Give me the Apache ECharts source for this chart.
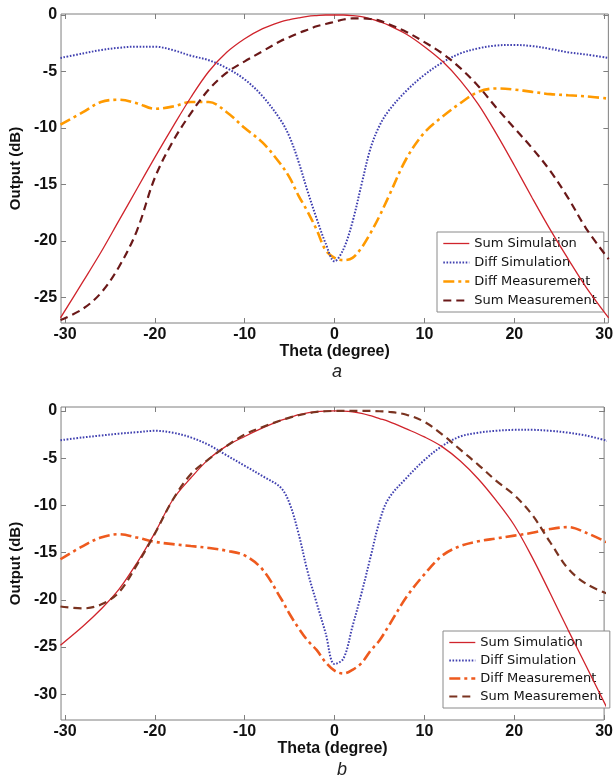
<!DOCTYPE html>
<html>
<head>
<meta charset="utf-8">
<script src="https://cdn.jsdelivr.net/npm/echarts@6/dist/echarts.min.js"></script>
<style>
html,body{margin:0;padding:0;background:#fff;}
#chart{width:616px;height:778px;}
</style>
</head>
<body>
<div id="chart"></div>
<script>
// ---------- data ----------
var theta = [-30.5,-28,-26,-24,-22,-20,-18,-16,-14,-12,-10,-8,-6,-5,-4,-3,-2,-1,0,1,2,3,4,5,6,8,10,12,14,16,18,20,22,24,26,28,30.5];
var xTicks = [-30,-20,-10,0,10,20,30];
var yTicksA = [0,-5,-10,-15,-20,-25];
var yTicksB = [0,-5,-10,-15,-20,-25,-30];
var seriesNames = ['Sum Simulation','Diff Simulation','Diff Measurement','Sum Measurement'];

// chart a
var sumSimA  = [-26.8,-23.6,-21.0,-18.2,-15.4,-12.6,-9.9,-7.3,-5.0,-3.3,-2.1,-1.2,-0.6,-0.4,-0.25,-0.12,-0.05,0,0,0,-0.05,-0.15,-0.35,-0.6,-0.9,-1.7,-2.8,-4.1,-5.8,-7.9,-10.5,-13.3,-16.2,-19.0,-21.6,-24.1,-26.8];
var diffSimA = [-3.8,-3.4,-3.1,-2.9,-2.8,-2.8,-3.1,-3.6,-4.0,-4.7,-5.7,-7.2,-9.3,-10.8,-13.0,-15.6,-18.0,-20.2,-21.8,-20.7,-18.3,-15.0,-11.8,-9.8,-8.5,-6.7,-5.3,-4.2,-3.4,-2.95,-2.7,-2.65,-2.75,-3.0,-3.3,-3.5,-3.8];
var diffMeasA= [-9.7,-8.6,-7.7,-7.5,-7.8,-8.3,-8.1,-7.7,-7.7,-8.6,-10.0,-11.3,-13.2,-14.4,-16.0,-17.4,-19.0,-20.8,-21.5,-21.7,-21.5,-20.6,-19.3,-17.8,-16.1,-12.7,-10.4,-9.0,-7.8,-6.8,-6.5,-6.6,-6.8,-7.0,-7.1,-7.2,-7.4];
var sumMeasA = [-27.0,-26.0,-24.6,-22.3,-19.1,-14.4,-11.2,-8.7,-6.6,-5.1,-4.1,-3.2,-2.3,-1.95,-1.6,-1.3,-1.0,-0.8,-0.6,-0.4,-0.3,-0.3,-0.35,-0.5,-0.8,-1.5,-2.4,-3.4,-4.7,-6.3,-8.2,-10.0,-11.8,-13.8,-16.2,-18.9,-21.6];

// chart b
var sumSimB  = [-24.8,-22.8,-21.0,-18.9,-16.1,-12.9,-9.4,-7.1,-5.1,-3.7,-2.7,-1.8,-1.0,-0.7,-0.4,-0.2,-0.08,-0.02,0,-0.02,-0.1,-0.25,-0.5,-0.8,-1.1,-1.9,-2.75,-3.8,-5.3,-7.2,-9.5,-12.1,-15.5,-19.3,-23.2,-27.0,-31.8];
var diffSimB = [-3.1,-2.8,-2.6,-2.4,-2.25,-2.1,-2.3,-2.8,-3.6,-4.7,-5.8,-6.9,-8.1,-9.8,-13.0,-17.0,-20.3,-23.5,-26.8,-26.2,-22.8,-19.3,-15.5,-11.7,-9.3,-7.1,-5.2,-3.7,-2.7,-2.3,-2.1,-2.0,-2.0,-2.1,-2.3,-2.6,-3.2];
var diffMeasB= [-15.7,-14.3,-13.4,-13.05,-13.4,-13.85,-14.1,-14.3,-14.5,-14.8,-15.3,-16.8,-19.8,-21.5,-23.0,-24.3,-25.3,-26.6,-27.5,-27.8,-27.4,-26.7,-25.4,-24.3,-22.8,-19.7,-17.3,-15.3,-14.3,-13.8,-13.5,-13.2,-12.9,-12.5,-12.3,-12.9,-14.0];
var sumMeasB = [-20.7,-20.9,-20.5,-19.2,-16.3,-13.0,-9.4,-6.7,-5.1,-3.7,-2.5,-1.7,-1.0,-0.7,-0.45,-0.25,-0.1,-0.03,0,0,0,0,0,-0.03,-0.08,-0.4,-1.15,-2.5,-4.1,-5.7,-7.4,-8.9,-11.0,-13.9,-16.7,-18.3,-19.4];

// ---------- styles ----------
var C_SUMSIM = '#d0242c';
var C_DIFFSIM = '#4040b0';
var C_DIFFMEAS_A = '#ff9a00';
var C_DIFFMEAS_B = '#ee5a1e';
var C_SUMMEAS_A = '#6a1818';
var C_SUMMEAS_B = '#7a3320';

var lsSumSim = function(){ return {color:C_SUMSIM, width:1.3, type:'solid'}; };
var lsDiffSim = function(){ return {color:C_DIFFSIM, width:2, type:[1.6,1.6]}; };
var lsDiffMeas = function(c){ return {color:c, width:2.6, type:[11,4,3,4]}; };
var lsSumMeas = function(c){ return {color:c, width:2.2, type:[8,5]}; };

function pairs(xs, ys){ return xs.map(function(x,i){ return [x, ys[i]]; }); }

var GRAY = '#7f7f7f';
var tickFont = {fontFamily:'Liberation Sans, Arial, sans-serif', fontWeight:'bold', fontSize:16, color:'#111'};

function xAxisDef(grid, min, max, pos, labels){
  return {
    type:'value', gridIndex:grid, min:min, max:max, position:pos,
    axisLine:{show:false, onZero:false},
    axisTick:{show:true, inside:true, length:5, lineStyle:{color:GRAY}, customValues:xTicks},
    axisLabel:Object.assign({show:labels, margin:4, customValues:xTicks}, tickFont),
    splitLine:{show:false},
    name: labels ? 'Theta (degree)' : '',
    nameLocation:'middle', nameGap:17,
    nameTextStyle:{fontFamily:'Liberation Sans, Arial, sans-serif', fontWeight:'bold', fontSize:16, color:'#111'}
  };
}
function yAxisDef(grid, min, max, pos, labels, ticks, gap){
  return {
    type:'value', gridIndex:grid, min:min, max:max, position:pos,
    axisLine:{show:false, onZero:false},
    axisTick:{show:true, inside:true, length:5, lineStyle:{color:GRAY}, customValues:ticks},
    axisLabel:Object.assign({show:labels, margin:4, customValues:ticks}, tickFont),
    splitLine:{show:false},
    name: labels ? 'Output (dB)' : '',
    nameLocation:'middle', nameGap:gap, nameRotate:90,
    nameTextStyle:{fontFamily:'Liberation Sans, Arial, sans-serif', fontWeight:'bold', fontSize:15, color:'#111'}
  };
}

function lineSeries(name, xi, yi, data, ls, z){
  return {
    name:name, type:'line', xAxisIndex:xi, yAxisIndex:yi,
    data:data, showSymbol:false, symbol:'none', smooth:0.35,
    lineStyle:ls, z:z, animation:false, clip:true
  };
}

var legendText = {fontFamily:'DejaVu Sans, Verdana, sans-serif', fontSize:13, color:'#111'};
var noSymbol = {color:'rgba(0,0,0,0)', borderWidth:0, opacity:0};
function legendDef(left, top, gap, dmColor, smColor){
  return {
    orient:'vertical', left:left, top:top,
    padding:[5,7,5,5], itemGap:gap, itemWidth:26, itemHeight:14,
    backgroundColor:'#fff', borderColor:'#8a8a8a', borderWidth:1, borderRadius:0,
    selectedMode:false, textStyle:legendText,
    itemStyle:noSymbol,
    data:[
      {name:seriesNames[0], lineStyle:lsSumSim(), itemStyle:noSymbol},
      {name:seriesNames[1], lineStyle:lsDiffSim(), itemStyle:noSymbol},
      {name:seriesNames[2], lineStyle:lsDiffMeas(dmColor), itemStyle:noSymbol},
      {name:seriesNames[3], lineStyle:lsSumMeas(smColor), itemStyle:noSymbol}
    ]
  };
}

var chart = echarts.init(document.getElementById('chart'), null, {renderer:'canvas'});
chart.setOption({
  backgroundColor:'#fff',
  animation:false,
  grid:[
    {left:56, top:14, width:556, height:309, show:true, borderColor:GRAY, borderWidth:1, backgroundColor:'transparent'},
    {left:59, top:407, width:554, height:313, show:true, borderColor:GRAY, borderWidth:1, backgroundColor:'transparent'}
  ],
  xAxis:[
    xAxisDef(0, -30.44, 30.47, 'bottom', true),
    xAxisDef(0, -30.44, 30.47, 'top', false),
    xAxisDef(1, -30.44, 30.0, 'bottom', true),
    xAxisDef(1, -30.44, 30.0, 'top', false)
  ],
  yAxis:[
    yAxisDef(0, -27.26, 0.09, 'left', true, yTicksA, 27),
    yAxisDef(0, -27.26, 0.09, 'right', false, yTicksA, 27),
    yAxisDef(1, -32.72, 0.42, 'left', true, yTicksB, 27),
    yAxisDef(1, -32.72, 0.42, 'right', false, yTicksB, 27)
  ],
  legend:[
    legendDef(437, 232, 6, C_DIFFMEAS_A, C_SUMMEAS_A),
    legendDef(443, 631, 5, C_DIFFMEAS_B, C_SUMMEAS_B)
  ],
  title:[
    {text:'a', left:327, top:358, textStyle:{fontFamily:'Liberation Sans, Arial, sans-serif', fontStyle:'italic', fontWeight:'normal', fontSize:18, color:'#222'}},
    {text:'b', left:332, top:756, textStyle:{fontFamily:'Liberation Sans, Arial, sans-serif', fontStyle:'italic', fontWeight:'normal', fontSize:18, color:'#222'}}
  ],
  series:[
    lineSeries(seriesNames[0], 0, 0, pairs(theta, sumSimA), lsSumSim(), 5),
    lineSeries(seriesNames[1], 0, 0, pairs(theta, diffSimA), lsDiffSim(), 4),
    lineSeries(seriesNames[2], 0, 0, pairs(theta, diffMeasA), lsDiffMeas(C_DIFFMEAS_A), 3),
    lineSeries(seriesNames[3], 0, 0, pairs(theta, sumMeasA), lsSumMeas(C_SUMMEAS_A), 6),
    lineSeries(seriesNames[0], 2, 2, pairs(theta, sumSimB), lsSumSim(), 5),
    lineSeries(seriesNames[1], 2, 2, pairs(theta, diffSimB), lsDiffSim(), 4),
    lineSeries(seriesNames[2], 2, 2, pairs(theta, diffMeasB), lsDiffMeas(C_DIFFMEAS_B), 3),
    lineSeries(seriesNames[3], 2, 2, pairs(theta, sumMeasB), lsSumMeas(C_SUMMEAS_B), 6)
  ]
});
</script>
</body>
</html>
